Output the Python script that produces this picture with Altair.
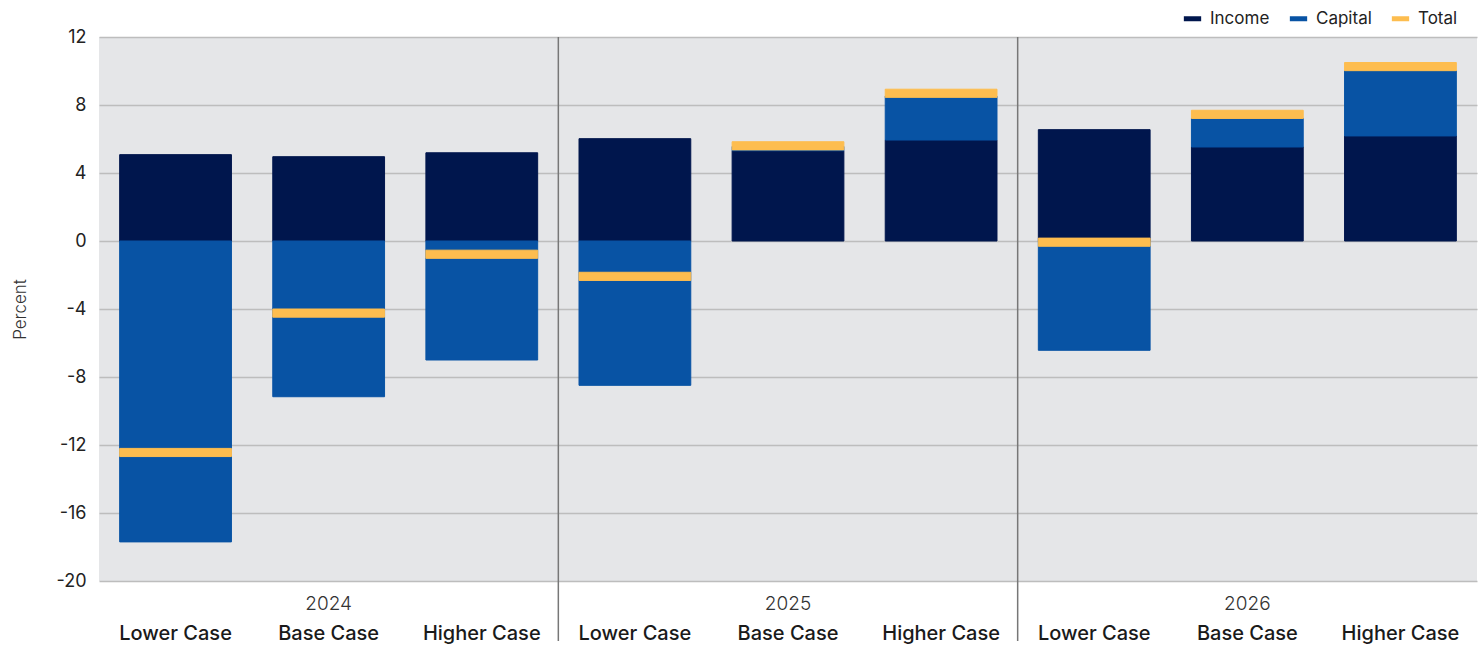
import altair as alt
import pandas as pd

years = ["2024", "2025", "2026"]
cases = ["Lower Case", "Base Case", "Higher Case"]
income = [5.08, 4.96, 5.19, 6.02, 5.31, 5.94, 6.55, 5.53, 6.18]
capital = [-17.7, -9.16, -7.0, -8.49, 0.25, 2.59, -6.43, 1.69, 3.84]
total = [-12.44, -4.24, -0.78, -2.08, 5.6, 8.69, -0.07, 7.45, 10.26]

series = ["Income", "Capital", "Total"]
colors = ["#00164D", "#0853A4", "#FDBD4F"]

keys = [f"{y}|{c}" for y in years for c in cases]

rows = []
for i, k in enumerate(keys):
    rows.append({"key": k, "series": "Income", "value": income[i], "ord": 0})
    rows.append({"key": k, "series": "Capital", "value": capital[i], "ord": 1})
bars_df = pd.DataFrame(rows)
tot_df = pd.DataFrame({"key": keys, "series": "Total", "value": total})
year_df = pd.DataFrame({"key": [f"{y}|Base Case" for y in years], "year": years})
sep_df = pd.DataFrame({"key": [f"{y}|Higher Case" for y in years[:-1]]})

W, H = 1378, 544
FONT = "Inter"

xscale = alt.Scale(domain=keys, paddingInner=0, paddingOuter=0)
xenc = alt.X(
    "key:N",
    scale=xscale,
    title=None,
    axis=alt.Axis(
        labelExpr="split(datum.value, '|')[1]",
        labelAngle=0,
        labelPadding=42,
        labelFontSize=20,
        labelFontWeight=500,
        labelColor="#1a1a1a",
        labelFont=FONT,
        ticks=False,
        domain=False,
        grid=False,
    ),
)
color_scale = alt.Scale(domain=series, range=colors)

bars = alt.Chart(bars_df).mark_bar(width={"band": 0.73}).encode(
    x=xenc,
    y=alt.Y(
        "value:Q",
        stack="zero",
        scale=alt.Scale(domain=[-20, 12], nice=False),
        title="Percent",
        axis=alt.Axis(
            values=list(range(-20, 13, 4)),
            labelExpr="'' + datum.value",
            labelFontSize=18,
            labelColor="#222",
            labelFont=FONT,
            labelPadding=13,
            ticks=False,
            domain=False,
            gridColor="#bdbdbd",
            gridWidth=1.5,
            titleFontSize=17,
            titleFontWeight=300,
            titleColor="#333",
            titleFont=FONT,
            titlePadding=26,
        ),
    ),
    color=alt.Color(
        "series:N",
        scale=color_scale,
        title=None,
        legend=alt.Legend(
            orient="none",
            legendX=1082,
            legendY=-30,
            direction="horizontal",
            symbolType="stroke",
            symbolStrokeWidth=5,
            symbolSize=300,
            labelFontSize=17,
            labelFont=FONT,
            labelColor="#222",
            columnPadding=9,
            labelOffset=6,
        ),
    ),
    stroke=alt.Stroke("series:N", scale=color_scale, legend=None),
    order=alt.Order("ord:Q"),
).properties(width=W, height=H)

totals = alt.Chart(tot_df).transform_calculate(
    lo="datum.value - 0.24", hi="datum.value + 0.24"
).mark_bar(width={"band": 0.73}).encode(
    x=alt.X("key:N", scale=xscale),
    y=alt.Y("lo:Q"),
    y2="hi:Q",
    color=alt.Color("series:N", scale=color_scale),
    stroke=alt.Stroke("series:N", scale=color_scale, legend=None),
)

year_text = alt.Chart(year_df).mark_text(
    fontSize=19, font=FONT, fontWeight=300, color="#333", baseline="middle"
).encode(
    x=alt.X("key:N", scale=xscale),
    y=alt.value(H + 23),
    text="year:N",
)

seps = alt.Chart(sep_df).mark_rule(color="#777", strokeWidth=1.5).encode(
    x=alt.X("key:N", scale=xscale, bandPosition=1),
    y=alt.value(0),
    y2=alt.value(H + 60),
)

chart = alt.layer(bars, totals, seps, year_text).properties(
    width=W,
    height=H,
    padding={"left": 99, "top": 37, "right": 6, "bottom": 65},
    autosize="none",
    background="white",
).configure_view(fill="#E5E6E8", stroke=None)

chart.save("out.html", embed_options={"renderer": "svg", "actions": False})
